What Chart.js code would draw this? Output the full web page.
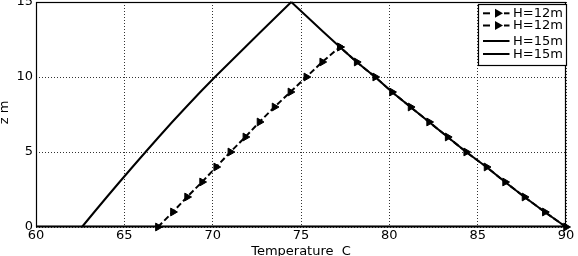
<!DOCTYPE html>
<html>
<head>
<meta charset="utf-8">
<script src="https://cdn.jsdelivr.net/npm/chart.js@4.4.1/dist/chart.umd.min.js"></script>
<style>
  html, body { margin: 0; padding: 0; background: #fff; }
  #wrap { width: 578px; height: 256px; position: relative; }
</style>
</head>
<body>
<div id="wrap"><canvas id="c" width="578" height="256"></canvas></div>
<script>
// ---- data ----
const xTicks = [60, 65, 70, 75, 80, 85, 90];
const yTicks = [0, 5, 10, 15];
const legendLabels = ["H=12m", "H=12m", "H=15m", "H=15m"];
const xTitle = "Temperature  C";
const yTitle = "z m";

const z12 = [0, 1, 2, 3, 4, 5, 6, 7, 8, 9, 10, 11, 12];
const temp12Rise = [66.9, 67.75, 68.55, 69.4, 70.2, 71.0, 71.85, 72.65, 73.5, 74.4, 75.3, 76.2, 77.2];
const temp12Fall = [90.0, 88.8, 87.65, 86.55, 85.5, 84.35, 83.3, 82.25, 81.2, 80.15, 79.2, 78.15, 77.2];

const z15 = [0, 1, 2, 3, 4, 5, 6, 7, 8, 9, 10, 11, 12, 13, 14, 15];
const temp15Rise = [62.6, 63.3, 64.01, 64.73, 65.46, 66.2, 66.95, 67.71, 68.5, 69.3, 70.13, 70.99, 71.85, 72.71, 73.58, 74.45];
const temp15Fall = [90.0, 88.8, 87.65, 86.55, 85.5, 84.35, 83.3, 82.25, 81.2, 80.15, 79.2, 78.15, 77.2, 76.27, 75.36, 74.45];

const pts = (xs, zs) => xs.map((t, i) => ({ x: t, y: zs[i] }));

const FONT = "DejaVu Sans";

const markerDs = (label, data) => ({
  label, data,
  borderColor: '#000', backgroundColor: '#000',
  borderWidth: 2, borderDash: [6, 3],
  pointStyle: 'triangle', rotation: 90, pointRadius: 4.5,
  pointBorderWidth: 1, pointBackgroundColor: '#000', pointBorderColor: '#000',
  showLine: true, tension: 0, clip: 8
});
const solidDs = (label, data) => ({
  label, data,
  borderColor: '#000', backgroundColor: '#000',
  borderWidth: 2, pointRadius: 0, showLine: true, tension: 0, clip: 8
});

const overlay = {
  id: 'overlay',
  afterDraw(chart) {
    const ctx = chart.ctx;
    const a = chart.chartArea;
    ctx.save();
    // frame
    ctx.strokeStyle = '#000';
    ctx.lineWidth = 1.2;
    ctx.strokeRect(a.left + 0.5, a.top + 0.5, a.right - a.left - 1, a.bottom - a.top - 1);
    ctx.lineWidth = 2;
    ctx.beginPath(); ctx.moveTo(a.left, a.bottom - 0.5); ctx.lineTo(a.right, a.bottom - 0.5); ctx.stroke();

    // axis titles
    ctx.fillStyle = '#000';
    ctx.font = '13px "' + FONT + '"';
    ctx.textAlign = 'center';
    ctx.textBaseline = 'alphabetic';
    ctx.fillText(xTitle, 301, 254.5);
    ctx.save();
    ctx.translate(8, 112.5);
    ctx.rotate(-Math.PI / 2);
    ctx.fillText(yTitle, 0, 0);
    ctx.restore();

    // legend
    const bx = 478.5, by = 4.5, bw = 88, bh = 61;
    ctx.fillStyle = '#fff';
    ctx.fillRect(bx, by, bw, bh);
    ctx.strokeStyle = '#000';
    ctx.lineWidth = 1.2;
    ctx.strokeRect(bx, by, bw, bh);
    const rows = [13.3, 25.5, 41, 54];
    rows.forEach((ry, i) => {
      const ds = chart.data.datasets[i];
      ctx.strokeStyle = '#000';
      ctx.lineWidth = 2;
      ctx.setLineDash([]);
      if (ds.borderDash) {
        ctx.beginPath(); ctx.moveTo(483, ry); ctx.lineTo(490, ry); ctx.stroke();
        ctx.beginPath(); ctx.moveTo(504, ry); ctx.lineTo(509.5, ry); ctx.stroke();
        ctx.fillStyle = '#000';
        ctx.beginPath();
        ctx.moveTo(503, ry);
        ctx.lineTo(495, ry - 4.5);
        ctx.lineTo(495, ry + 4.5);
        ctx.closePath();
        ctx.fill();
      } else {
        ctx.beginPath(); ctx.moveTo(483, ry); ctx.lineTo(509.5, ry); ctx.stroke();
      }
      ctx.fillStyle = '#000';
      ctx.font = '13px "' + FONT + '"';
      ctx.textAlign = 'left';
      ctx.textBaseline = 'middle';
      ctx.fillText(legendLabels[i], 513, ry + 0.5);
    });
    ctx.restore();
  }
};

new Chart(document.getElementById('c'), {
  type: 'scatter',
  data: {
    datasets: [
      markerDs(legendLabels[0], pts(temp12Rise, z12)),
      markerDs(legendLabels[1], pts(temp12Fall, z12)),
      solidDs(legendLabels[2], pts(temp15Rise, z15)),
      solidDs(legendLabels[3], pts(temp15Fall, z15))
    ]
  },
  options: {
    responsive: false,
    animation: false,
    devicePixelRatio: 1,
    layout: { autoPadding: false, padding: { top: 2, right: 12, left: 0, bottom: 0 } },
    plugins: { legend: { display: false }, tooltip: { enabled: false } },
    elements: { line: { borderCapStyle: 'butt' } },
    scales: {
      x: {
        type: 'linear', min: 60, max: 90,
        afterBuildTicks: s => { s.ticks = xTicks.map(v => ({ value: v })); },
        ticks: { color: '#000', font: { family: FONT, size: 13 }, padding: 1, maxRotation: 0, autoSkip: false },
        grid: { color: 'rgba(0,0,0,0.8)', lineWidth: 1, drawTicks: false },
        border: { display: false, dash: [1, 2] },
        afterFit: s => { s.height = 29; s.paddingLeft = 0; s.paddingRight = 0; }
      },
      y: {
        type: 'linear', min: 0, max: 15,
        afterBuildTicks: s => { s.ticks = yTicks.map(v => ({ value: v })); },
        ticks: { color: '#000', font: { family: FONT, size: 13 }, padding: 3, autoSkip: false },
        grid: { color: 'rgba(0,0,0,0.8)', lineWidth: 1, drawTicks: false },
        border: { display: false, dash: [1, 2] },
        afterFit: s => { s.width = 36; s.paddingTop = 0; s.paddingBottom = 0; }
      }
    }
  },
  plugins: [overlay]
});
</script>
</body>
</html>
